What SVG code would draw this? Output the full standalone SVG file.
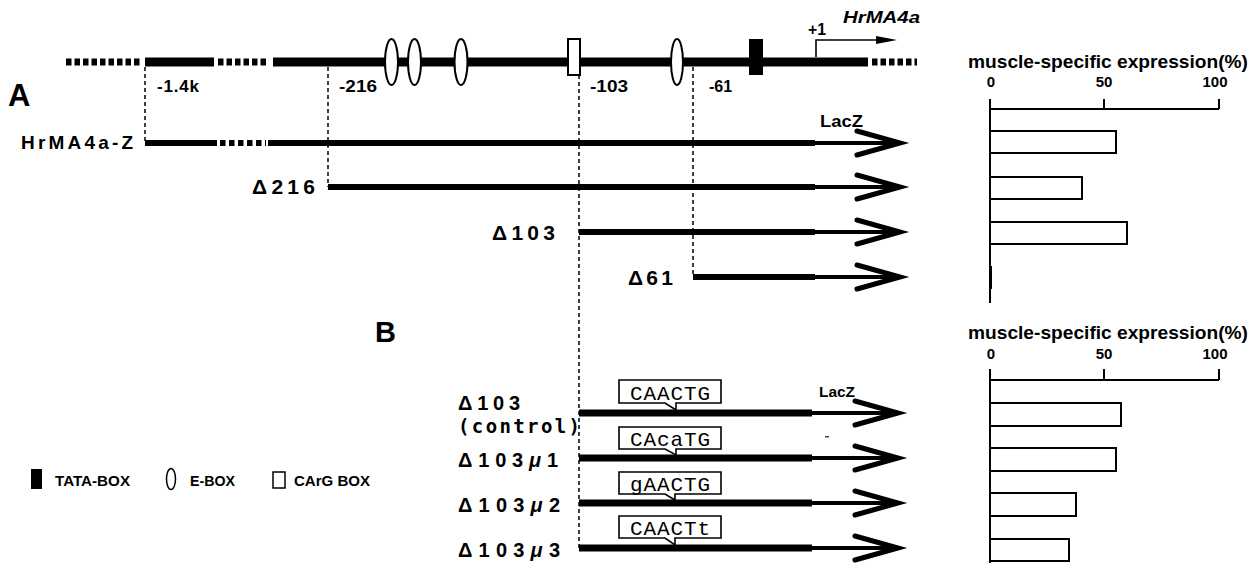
<svg xmlns="http://www.w3.org/2000/svg" width="1256" height="573" viewBox="0 0 1256 573">
<style>
.b{font-family:"Liberation Sans",Arial,sans-serif;font-weight:bold;fill:#000}
.m{font-family:"Liberation Mono","Courier New",monospace;fill:#000}
.mo{font-family:"DejaVu Sans Mono",monospace;fill:#000}
.thick{stroke:#000;fill:none;stroke-linecap:butt}
.dot{stroke:#000;fill:none}
.dash{stroke:#000;stroke-width:1.5;stroke-dasharray:4 3;fill:none}
.arr{stroke:#000;stroke-width:5;fill:none;stroke-linecap:round;stroke-linejoin:miter}
.bar{fill:#fff;stroke:#000;stroke-width:2}
.axis{stroke:#000;stroke-width:2;fill:none}
.box{fill:#fff;stroke:#000;stroke-width:1.6}
.eb{fill:#fff;stroke:#000;stroke-width:2}
</style>
<rect width="1256" height="573" fill="#fff"/>

<g id="connectors">
  <path class="dash" d="M145,67 V143"/>
  <path class="dash" d="M328,67 V187"/>
  <path class="dash" d="M579,75 V548"/>
  <path class="dash" d="M693,67 V277"/>
</g>

<g id="gene-map">
  <path class="dot" d="M66,62 H142" stroke-width="7" stroke-dasharray="5.5 3"/>
  <path class="thick" d="M145,62 H214" stroke-width="9"/>
  <path class="dot" d="M218,62 H268" stroke-width="7" stroke-dasharray="5.5 3"/>
  <path class="thick" d="M273,62 H868" stroke-width="9"/>
  <path class="dot" d="M872,62 H917" stroke-width="7" stroke-dasharray="5.5 3"/>
  <ellipse class="eb" cx="391.5" cy="62" rx="6.5" ry="23"/>
  <ellipse class="eb" cx="414.5" cy="62" rx="6.5" ry="23"/>
  <ellipse class="eb" cx="461" cy="62" rx="6.5" ry="23"/>
  <ellipse class="eb" cx="677" cy="62" rx="6" ry="23"/>
  <rect class="eb" x="568" y="39" width="12" height="36"/>
  <rect x="749" y="39" width="14" height="36" fill="#000"/>
  <path d="M816,57 V40 H880" stroke="#000" stroke-width="1.6" fill="none"/>
  <polygon points="876,36 897,40 876,44" fill="#000"/>
  <text class="b" x="808" y="35" font-size="16" textLength="18" lengthAdjust="spacingAndGlyphs">+1</text>
  <text class="b" x="843" y="23" font-size="17" font-style="italic" textLength="77" lengthAdjust="spacingAndGlyphs">HrMA4a</text>
  <text class="b" x="157" y="92" font-size="17" textLength="42">-1.4k</text>
  <text class="b" x="339" y="92" font-size="17" textLength="38" lengthAdjust="spacingAndGlyphs">-216</text>
  <text class="b" x="590" y="92" font-size="17" textLength="38" lengthAdjust="spacingAndGlyphs">-103</text>
  <text class="b" x="709" y="92" font-size="16">-61</text>
</g>

<text class="b" x="8" y="106" font-size="31">A</text>
<text class="b" x="375" y="342" font-size="29">B</text>

<g id="construct-HrMA4a-Z">
  <text class="b" x="21" y="149" font-size="19" textLength="112">HrMA4a-Z</text>
  <path class="thick" d="M145,143 H217" stroke-width="6"/>
  <path class="dot" d="M220,143 H266" stroke-width="6" stroke-dasharray="5.5 3.5"/>
  <path class="thick" d="M268,143 H815" stroke-width="6"/>
  <path class="thick" d="M815,143 H899" stroke-width="4"/>
  <polyline class="arr" points="857,131 900,143 857,155"/>
  <text class="b" x="820" y="127" font-size="17" textLength="43" lengthAdjust="spacingAndGlyphs">LacZ</text>
</g>

<g id="construct-d216">
  <text class="b" x="252" y="194" font-size="21" textLength="63">Δ216</text>
  <path class="thick" d="M328,187 H815" stroke-width="6"/>
  <path class="thick" d="M815,187 H899" stroke-width="4"/>
  <polyline class="arr" points="857,175 900,187 857,199"/>
</g>

<g id="construct-d103">
  <text class="b" x="492" y="240" font-size="21" textLength="63">Δ103</text>
  <path class="thick" d="M579,232 H815" stroke-width="6"/>
  <path class="thick" d="M815,232 H899" stroke-width="4"/>
  <polyline class="arr" points="857,220 900,232 857,244"/>
</g>

<g id="construct-d61">
  <text class="b" x="628" y="285" font-size="21" textLength="45">Δ61</text>
  <path class="thick" d="M693,277 H815" stroke-width="6"/>
  <path class="thick" d="M815,277 H899" stroke-width="4"/>
  <polyline class="arr" points="857,265 900,277 857,289"/>
</g>

<g id="construct-control">
  <text class="b" x="458" y="410" font-size="20" textLength="62">Δ103</text>
  <text class="mo" x="458" y="433" font-size="19" font-weight="bold" textLength="122">(control)</text>
  <path class="thick" d="M579,413 H812" stroke-width="7"/>
  <path class="thick" d="M812,413 H896" stroke-width="4"/>
  <polyline class="arr" points="855,401 898,413 855,425"/>
  <path class="box" d="M619,380 H721 V403 H676 V410 L665,403 H619 Z"/>
  <text class="m" x="630" y="400" font-size="21" textLength="80">CAACTG</text>
  <text class="b" x="819" y="397" font-size="15" textLength="36" lengthAdjust="spacingAndGlyphs">LacZ</text>
  <rect x="825" y="436" width="4" height="1.5" fill="#444"/>
</g>

<g id="construct-mu1">
  <text class="b" x="458" y="467" font-size="20" textLength="100">Δ103<tspan font-style="italic">μ</tspan>1</text>
  <path class="thick" d="M579,458 H812" stroke-width="7"/>
  <path class="thick" d="M812,458 H896" stroke-width="4"/>
  <polyline class="arr" points="855,446 898,458 855,470"/>
  <path class="box" d="M619,427 H721 V449 H676 V455 L665,449 H619 Z"/>
  <text class="m" x="630" y="446" font-size="21" textLength="80">CAcaTG</text>
</g>

<g id="construct-mu2">
  <text class="b" x="458" y="512" font-size="20" textLength="102">Δ103<tspan font-style="italic">μ</tspan>2</text>
  <path class="thick" d="M579,503 H812" stroke-width="7"/>
  <path class="thick" d="M812,503 H896" stroke-width="4"/>
  <polyline class="arr" points="855,491 898,503 855,515"/>
  <path class="box" d="M619,472 H721 V494 H675 V500 L665,494 H619 Z"/>
  <text class="m" x="630" y="491" font-size="21" textLength="80">gAACTG</text>
</g>

<g id="construct-mu3">
  <text class="b" x="458" y="557" font-size="20" textLength="102">Δ103<tspan font-style="italic">μ</tspan>3</text>
  <path class="thick" d="M579,548 H812" stroke-width="7"/>
  <path class="thick" d="M812,548 H896" stroke-width="4"/>
  <polyline class="arr" points="855,536 898,548 855,560"/>
  <path class="box" d="M619,516 H721 V538 H675 V545 L665,538 H619 Z"/>
  <text class="m" x="630" y="535" font-size="21" textLength="80">CAACTt</text>
</g>

<g id="legend">
  <rect x="31" y="469" width="11" height="20" fill="#000"/>
  <text class="b" x="55" y="486" font-size="15" textLength="75" lengthAdjust="spacingAndGlyphs">TATA-BOX</text>
  <ellipse cx="171" cy="479" rx="4.5" ry="10.5" fill="#fff" stroke="#000" stroke-width="1.5"/>
  <text class="b" x="190" y="486" font-size="15" textLength="45" lengthAdjust="spacingAndGlyphs">E-BOX</text>
  <rect x="273" y="472" width="12" height="16" fill="#fff" stroke="#000" stroke-width="1.5"/>
  <text class="b" x="294" y="486" font-size="15" textLength="76" lengthAdjust="spacingAndGlyphs">CArG BOX</text>
</g>

<g id="chart-A">
  <text class="b" x="968" y="68" font-size="19" textLength="280" lengthAdjust="spacingAndGlyphs">muscle-specific expression(%)</text>
  <text class="b" x="991" y="87" font-size="15" text-anchor="middle">0</text>
  <text class="b" x="1104" y="87" font-size="15" text-anchor="middle">50</text>
  <text class="b" x="1215" y="87" font-size="15" text-anchor="middle">100</text>
  <path class="axis" d="M990,99 V303 M990,109 H1219 M1104,99 V109 M1219,99 V109"/>
  <rect class="bar" x="990" y="131" width="126" height="22"/>
  <rect class="bar" x="990" y="177" width="92" height="22"/>
  <rect class="bar" x="990" y="222" width="137" height="22"/>
  <rect x="989" y="266" width="3" height="23" fill="#000"/>
</g>

<g id="chart-B">
  <text class="b" x="968" y="339" font-size="19" textLength="280" lengthAdjust="spacingAndGlyphs">muscle-specific expression(%)</text>
  <text class="b" x="991" y="359" font-size="15" text-anchor="middle">0</text>
  <text class="b" x="1104" y="359" font-size="15" text-anchor="middle">50</text>
  <text class="b" x="1215" y="359" font-size="15" text-anchor="middle">100</text>
  <path class="axis" d="M990,369 V563 M990,380 H1219 M1104,369 V380 M1219,369 V380"/>
  <rect class="bar" x="990" y="403" width="131" height="23"/>
  <rect class="bar" x="990" y="448" width="126" height="23"/>
  <rect class="bar" x="990" y="493" width="86" height="23"/>
  <rect class="bar" x="990" y="539" width="79" height="22"/>
</g>
</svg>
